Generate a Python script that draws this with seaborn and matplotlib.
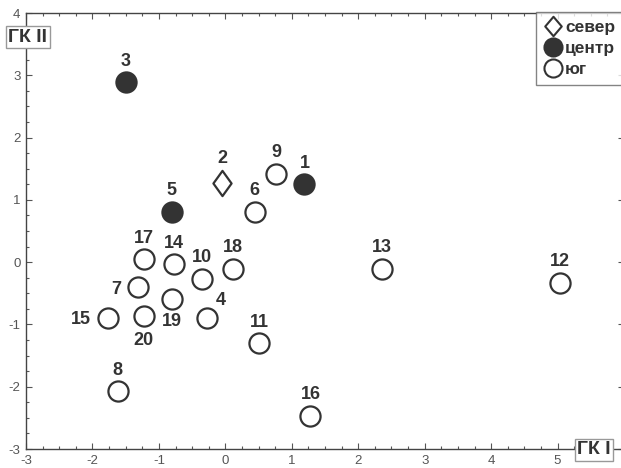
import matplotlib
matplotlib.use("Agg")
import matplotlib.pyplot as plt
import seaborn as sns
import pandas as pd
from matplotlib.lines import Line2D
from matplotlib.path import Path
from matplotlib.ticker import MultipleLocator

# =========================
# DATA
# =========================
point_ids = [1, 2, 3, 4, 5, 6, 7, 8, 9, 10,
             11, 12, 13, 14, 15, 16, 17, 18, 19, 20]
gk1 = [1.19, -0.05, -1.50, -0.27, -0.81, 0.44, -1.32, -1.62, 0.77, -0.35,
       0.51, 5.04, 2.36, -0.78, -1.76, 1.28, -1.23, 0.12, -0.80, -1.23]
gk2 = [1.25, 1.27, 2.89, -0.90, 0.81, 0.81, -0.40, -2.07, 1.42, -0.27,
       -1.30, -0.33, -0.11, -0.03, -0.90, -2.47, 0.05, -0.11, -0.59, -0.86]
region = ["центр", "север", "центр", "юг", "центр", "юг", "юг", "юг", "юг", "юг",
          "юг", "юг", "юг", "юг", "юг", "юг", "юг", "юг", "юг", "юг"]
regions = ["север", "центр", "юг"]
x_ticks = [-3, -2, -1, 0, 1, 2, 3, 4, 5]

df = pd.DataFrame({"id": point_ids, "x": gk1, "y": gk2, "region": region})

# label placement (pixels from point centre)
label_pos = {4: (13, 18), 7: (-21, -2), 15: (-28, -1), 19: (0, -23), 20: (0, -25), 2: (0, 25)}

DARK = "#333333"


def diamond_path(w):
    return Path([(0, 1), (w, 0), (0, -1), (-w, 0), (0, 1)],
                [Path.MOVETO, Path.LINETO, Path.LINETO, Path.LINETO, Path.CLOSEPOLY])


diamond = diamond_path(0.72)

# =========================
# PLOT
# =========================
sns.set_style("ticks")
plt.rcParams["font.family"] = ["Liberation Sans", "DejaVu Sans"]
plt.rcParams["axes.unicode_minus"] = False

fig = plt.figure(figsize=(6.21, 4.68), dpi=100)
ax = fig.add_axes([26 / 621, 19 / 468, 598 / 621, 436 / 468])

styles = {
    "север": dict(marker=diamond, s=330, facecolor="white"),
    "центр": dict(marker="o", s=210, facecolor=DARK),
    "юг": dict(marker="o", s=210, facecolor="white"),
}
for reg in regions:
    sub = df[df["region"] == reg]
    st = styles[reg]
    sns.scatterplot(data=sub, x="x", y="y", ax=ax, marker=st["marker"], s=st["s"],
                    color=st["facecolor"], edgecolor=DARK, linewidth=1.6,
                    zorder=3, legend=False)

for _, row in df.iterrows():
    dx, dy = label_pos.get(row["id"], (0, 21))
    ax.annotate(str(row["id"]), (row["x"], row["y"]), xytext=(dx, dy),
                textcoords="offset pixels", ha="center", va="center",
                fontsize=13, fontweight="bold", color=DARK, zorder=4)

ax.set_xlim(-3, 6)
ax.set_ylim(-3, 4)
ax.set_xticks(x_ticks)
ax.yaxis.set_major_locator(MultipleLocator(1))
ax.xaxis.set_minor_locator(MultipleLocator(0.25))
ax.yaxis.set_minor_locator(MultipleLocator(0.25))
ax.tick_params(which="both", direction="in", top=True, right=True,
               color="#555555", width=0.8)
ax.tick_params(which="major", length=4, labelsize=9.5, labelcolor="#555555", pad=4)
ax.tick_params(which="minor", length=2.5)
ax.set_xlabel("")
ax.set_ylabel("")
for sp in ax.spines.values():
    sp.set_color("#444444")
    sp.set_linewidth(1.0)

box = dict(boxstyle="square,pad=0.12", facecolor="white", edgecolor="#999999", linewidth=1)
fig.text(28 / 621, 1 - 37 / 468, "ГК II", ha="center", va="center", fontsize=14,
         fontweight="bold", color=DARK, bbox=box)
fig.text(594 / 621, 1 - 450 / 468, "ГК I", ha="center", va="center", fontsize=14,
         fontweight="bold", color=DARK, bbox=box)

handles = [
    Line2D([], [], linestyle="", marker=diamond_path(0.85), markersize=14,
           markerfacecolor="white", markeredgecolor=DARK, markeredgewidth=1.5),
    Line2D([], [], linestyle="", marker="o", markersize=13, markerfacecolor=DARK,
           markeredgecolor=DARK, markeredgewidth=1.5),
    Line2D([], [], linestyle="", marker="o", markersize=13, markerfacecolor="white",
           markeredgecolor=DARK, markeredgewidth=1.5),
]
leg = fig.legend(handles, regions, loc="upper right", bbox_to_anchor=(1.003, 1 - 12 / 468),
                 frameon=True, fancybox=False, handletextpad=0.2, handlelength=1.0,
                 labelspacing=0.35, borderpad=0.45, borderaxespad=0,
                 prop={"weight": "bold", "size": 12.5})
leg.get_frame().set_edgecolor("#666666")
leg.get_frame().set_linewidth(1)
for t in leg.get_texts():
    t.set_color(DARK)

fig.savefig("out.png", dpi=100)
